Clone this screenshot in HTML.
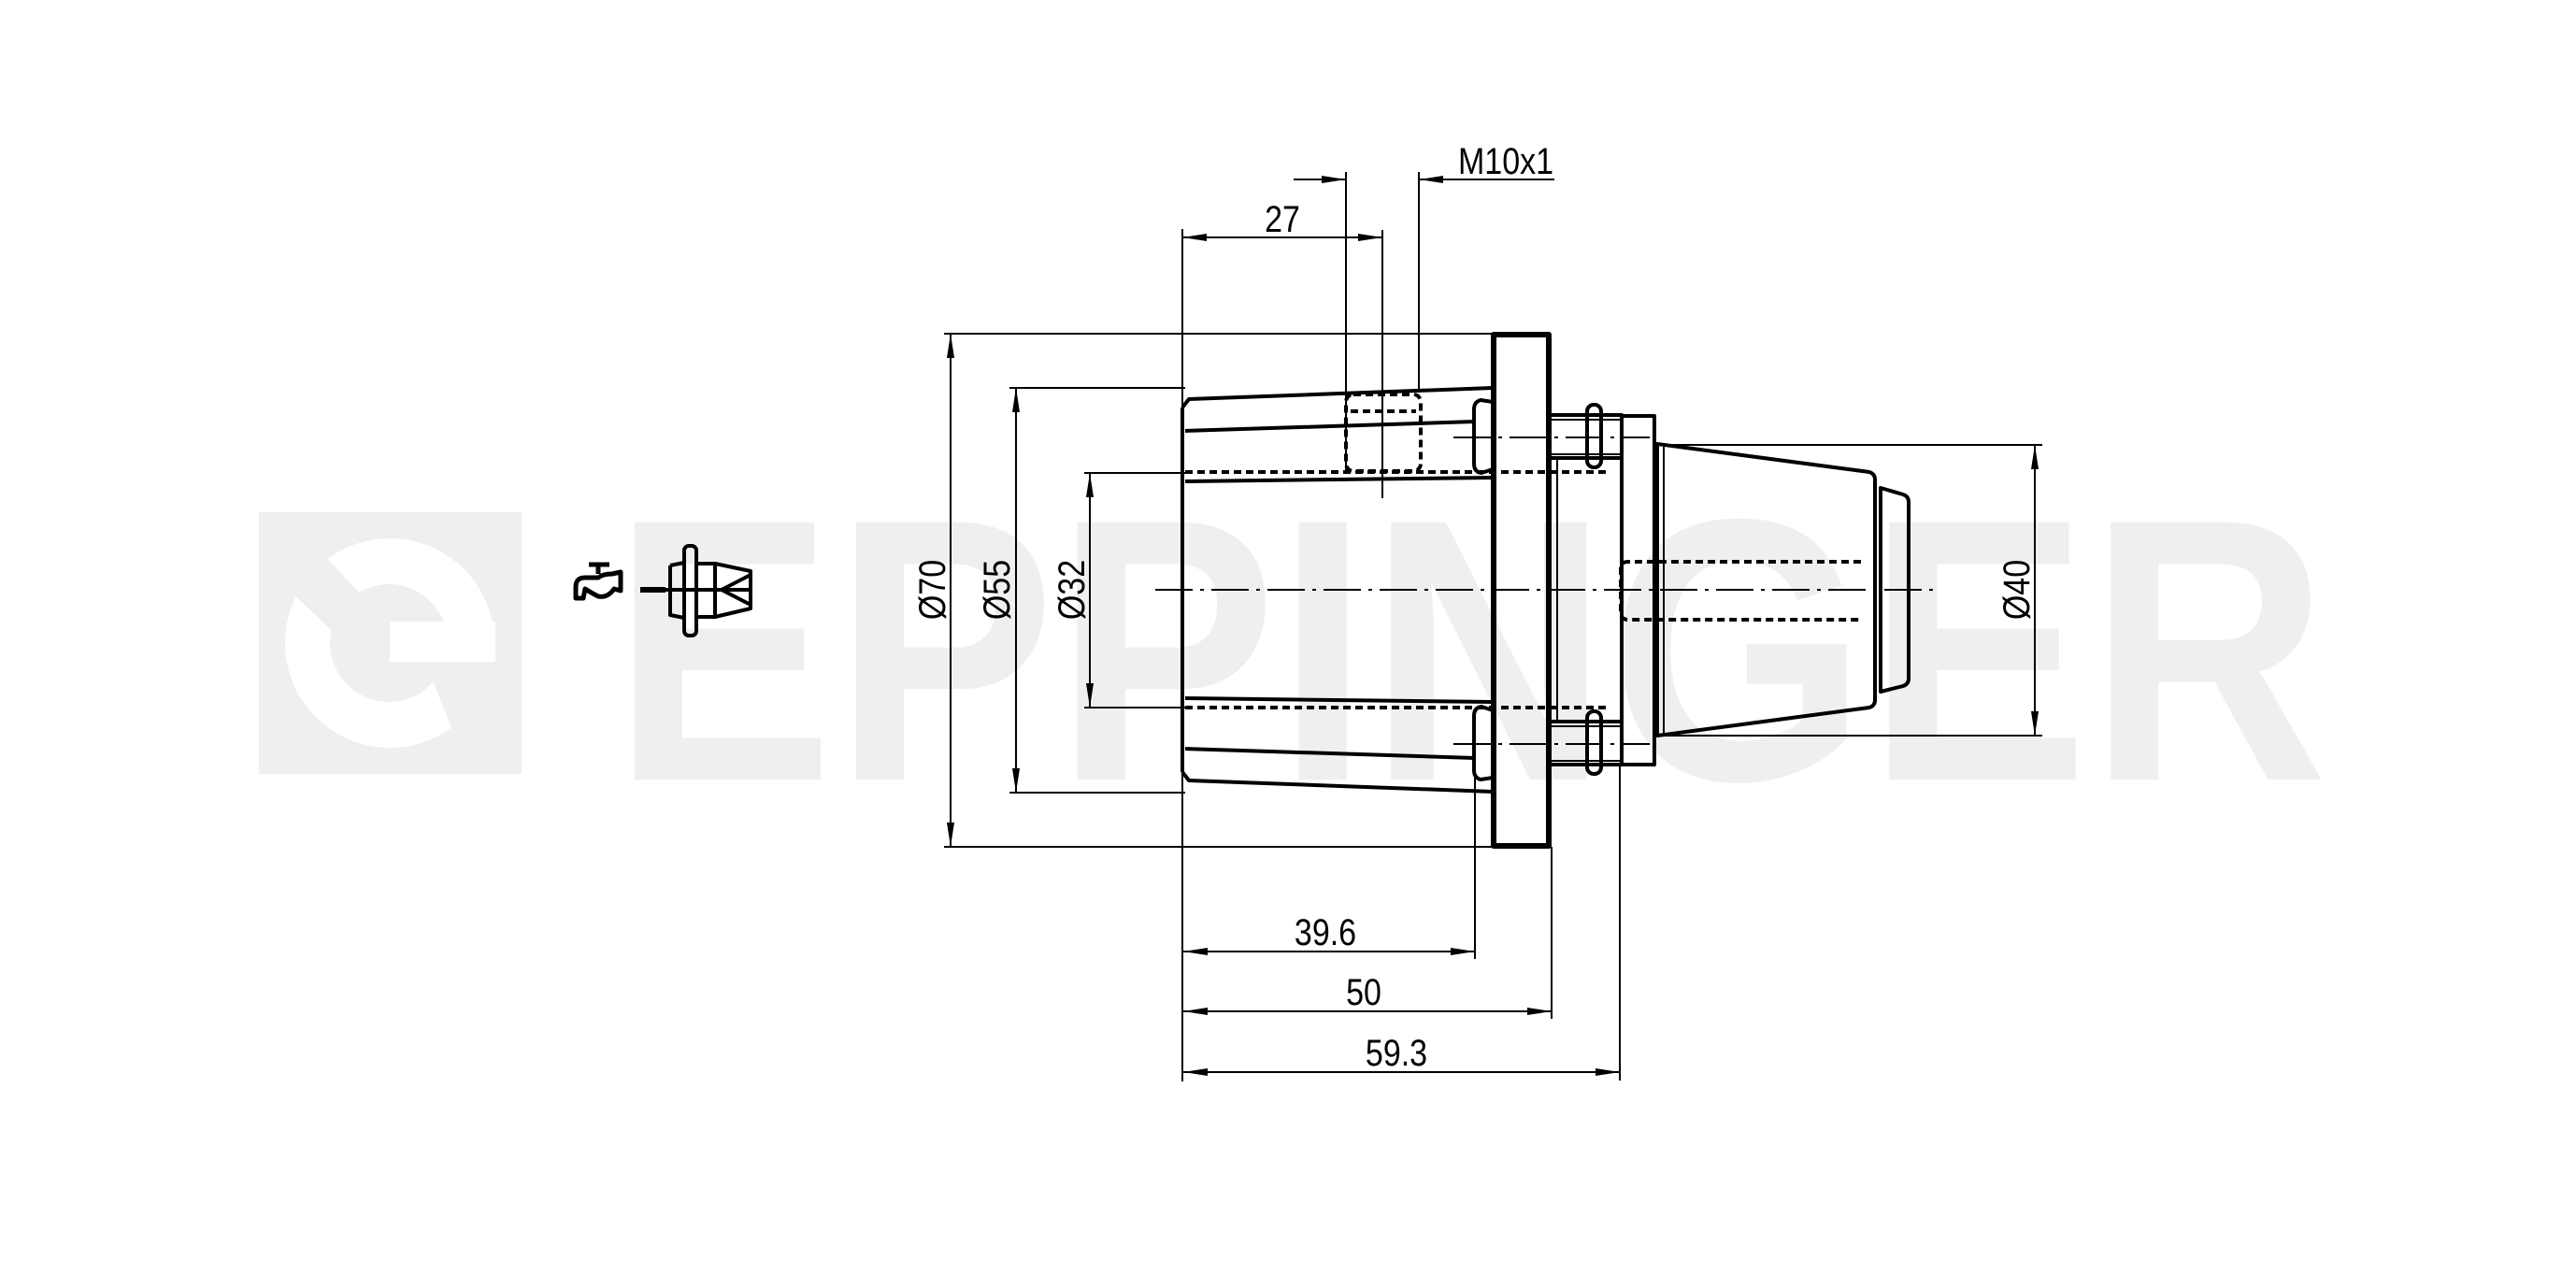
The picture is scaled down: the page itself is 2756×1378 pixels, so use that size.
<!DOCTYPE html>
<html><head><meta charset="utf-8"><style>
html,body{margin:0;padding:0;background:#fff;}
svg{display:block;}
text{font-family:"Liberation Sans",sans-serif;}
</style></head><body>
<svg width="2756" height="1378" viewBox="0 0 2756 1378" xmlns="http://www.w3.org/2000/svg">
<defs>
<marker id="a" viewBox="0 0 26 10" refX="26" refY="5" markerWidth="26" markerHeight="10" markerUnits="userSpaceOnUse" orient="auto-start-reverse"><path d="M0,1 L26,5 L0,9 Z" fill="#000"/></marker>
</defs>
<rect x="277" y="548" width="281" height="280" fill="#efefef"/>
<circle cx="417" cy="688" r="112" fill="#fff"/>
<circle cx="416" cy="688" r="63" fill="#efefef"/>
<rect x="417" y="665" width="113" height="43" fill="#fff"/>
<polygon points="455,708 545,708 545,827 502,827" fill="#efefef"/>
<polygon points="298,620 356,676 386,636 334,580" fill="#efefef"/>
<text x="655" y="834" font-size="400" font-weight="bold" fill="#efefef" textLength="1836" lengthAdjust="spacingAndGlyphs">EPPINGER</text>

<g fill="none" stroke="#000" stroke-width="2">
<line x1="1010" y1="357" x2="1597" y2="357"/>
<line x1="1010" y1="906" x2="1597" y2="906"/>
<line x1="1080" y1="415" x2="1268" y2="415"/>
<line x1="1080" y1="848" x2="1268" y2="848"/>
<line x1="1160" y1="506" x2="1268" y2="506"/>
<line x1="1160" y1="757" x2="1268" y2="757"/>
<line x1="1771" y1="476" x2="2185" y2="476"/>
<line x1="1771" y1="787" x2="2185" y2="787"/>
<line x1="1017" y1="357" x2="1017" y2="906" marker-start="url(#a)" marker-end="url(#a)"/>
<line x1="1087" y1="415" x2="1087" y2="848" marker-start="url(#a)" marker-end="url(#a)"/>
<line x1="1166" y1="506" x2="1166" y2="757" marker-start="url(#a)" marker-end="url(#a)"/>
<line x1="2177" y1="476" x2="2177" y2="787" marker-start="url(#a)" marker-end="url(#a)"/>
<line x1="1265" y1="245" x2="1265" y2="1157"/>
<line x1="1479" y1="246" x2="1479" y2="533"/>
<line x1="1440" y1="184" x2="1440" y2="505"/>
<line x1="1518" y1="184" x2="1518" y2="420"/>
<line x1="1265" y1="254" x2="1479" y2="254" marker-start="url(#a)" marker-end="url(#a)"/>
<line x1="1384" y1="192" x2="1440" y2="192" marker-end="url(#a)"/>
<line x1="1518" y1="192" x2="1663" y2="192" marker-start="url(#a)"/>
<line x1="1578" y1="830" x2="1578" y2="1026"/>
<line x1="1660" y1="906" x2="1660" y2="1090"/>
<line x1="1733" y1="820" x2="1733" y2="1156"/>
<line x1="1666" y1="490" x2="1666" y2="772"/>
<line x1="1266" y1="1018" x2="1578" y2="1018" marker-start="url(#a)" marker-end="url(#a)"/>
<line x1="1266" y1="1082" x2="1660" y2="1082" marker-start="url(#a)" marker-end="url(#a)"/>
<line x1="1266" y1="1147" x2="1733" y2="1147" marker-start="url(#a)" marker-end="url(#a)"/>
<line x1="1236" y1="631" x2="2074" y2="631" stroke-dasharray="40,8,4,8"/>
<line x1="1555" y1="468" x2="1765" y2="468" stroke-dasharray="40,8,4,8"/>
<line x1="1555" y1="796" x2="1765" y2="796" stroke-dasharray="40,8,4,8"/>
</g>

<g fill="none" stroke="#000" stroke-width="4" stroke-linejoin="round">
<path d="M1265,436 L1272,427 L1597,415"/>
<path d="M1265,826 L1272,835 L1597,847"/>
<line x1="1265" y1="436" x2="1265" y2="826"/>
<line x1="1268" y1="461" x2="1578" y2="451"/>
<line x1="1268" y1="801" x2="1578" y2="811"/>
<line x1="1268" y1="515" x2="1597" y2="511"/>
<line x1="1268" y1="747" x2="1597" y2="751"/>
<path d="M1597,430 L1584,428 Q1577,430 1577,438 L1577,496 Q1577,505 1585,506 L1597,502"/>
<path d="M1597,832 L1584,834 Q1577,832 1577,824 L1577,766 Q1577,757 1585,756 L1597,760"/>
<rect x="1598" y="358" width="59" height="547" stroke-width="6"/>
<rect x="1657" y="444" width="78" height="46"/>
<rect x="1657" y="772" width="78" height="46"/>
<rect x="1698" y="433" width="15" height="67" rx="7"/>
<rect x="1698" y="761" width="15" height="67" rx="7"/>
<rect x="1735" y="445" width="35" height="373"/>
<path d="M1773,475 L2000,505 Q2006,507 2006,513 L2006,749 Q2006,755 2000,757 L1773,787 Z"/>
<path d="M2012,522 L2036,529 Q2042,531 2042,537 L2042,726 Q2042,732 2036,734 L2012,740 Z"/>
</g>
<g fill="none" stroke="#000" stroke-width="2">
<line x1="1660" y1="449" x2="1735" y2="449"/>
<line x1="1660" y1="486" x2="1735" y2="486"/>
<line x1="1660" y1="777" x2="1735" y2="777"/>
<line x1="1660" y1="814" x2="1735" y2="814"/>
<line x1="1780" y1="478" x2="1780" y2="785"/>
</g>
<g fill="none" stroke="#000" stroke-width="4" stroke-dasharray="8,5">
<line x1="1268" y1="505" x2="1722" y2="505"/>
<line x1="1268" y1="757" x2="1722" y2="757"/>
<path d="M1991,601 L1742,601 Q1734,601 1734,609 L1734,655 Q1734,663 1742,663 L1991,663"/>
<rect x="1440" y="422" width="80" height="82" rx="8"/>
<line x1="1445" y1="440" x2="1515" y2="440"/>
</g>

<g fill="none" stroke="#000" stroke-width="5" stroke-linejoin="round">
<path d="M616,640 L616,628 Q616,618 626,618 L640,618 Q645,614 655,614 L664,612 L664,632 L657,630 Q650,640 640,638 Q632,634 626,630 L624,640 Z"/>
<line x1="640" y1="614" x2="640" y2="604"/>
<line x1="630" y1="604" x2="652" y2="604"/>
</g>
<g fill="none" stroke="#000" stroke-width="4" stroke-linejoin="round">
<path d="M717,605 L732,602 M717,605 L717,658 L732,661"/>
<rect x="732" y="584" width="13" height="96" rx="5"/>
<rect x="745" y="603" width="20" height="57"/>
<path d="M765,603 L803,611 L803,651 L765,660"/>
<path d="M803,615 L772,631 L803,647"/>
<line x1="712" y1="631" x2="803" y2="631"/>
</g>
<line x1="685" y1="631" x2="712" y2="631" stroke="#000" stroke-width="6"/>

<g font-size="40" fill="#000">
<text transform="translate(1372,248) scale(0.85,1)" text-anchor="middle">27</text>
<text transform="translate(1611,186) scale(0.85,1)" text-anchor="middle">M10x1</text>
<text transform="translate(1418,1011) scale(0.85,1)" text-anchor="middle">39.6</text>
<text transform="translate(1459,1075) scale(0.85,1)" text-anchor="middle">50</text>
<text transform="translate(1494,1140) scale(0.85,1)" text-anchor="middle">59.3</text>
<text transform="translate(1011,631) rotate(-90) scale(0.85,1)" text-anchor="middle">Ø70</text>
<text transform="translate(1080,631) rotate(-90) scale(0.85,1)" text-anchor="middle">Ø55</text>
<text transform="translate(1160,631) rotate(-90) scale(0.85,1)" text-anchor="middle">Ø32</text>
<text transform="translate(2171,631) rotate(-90) scale(0.85,1)" text-anchor="middle">Ø40</text>
</g>
</svg>
</body></html>
